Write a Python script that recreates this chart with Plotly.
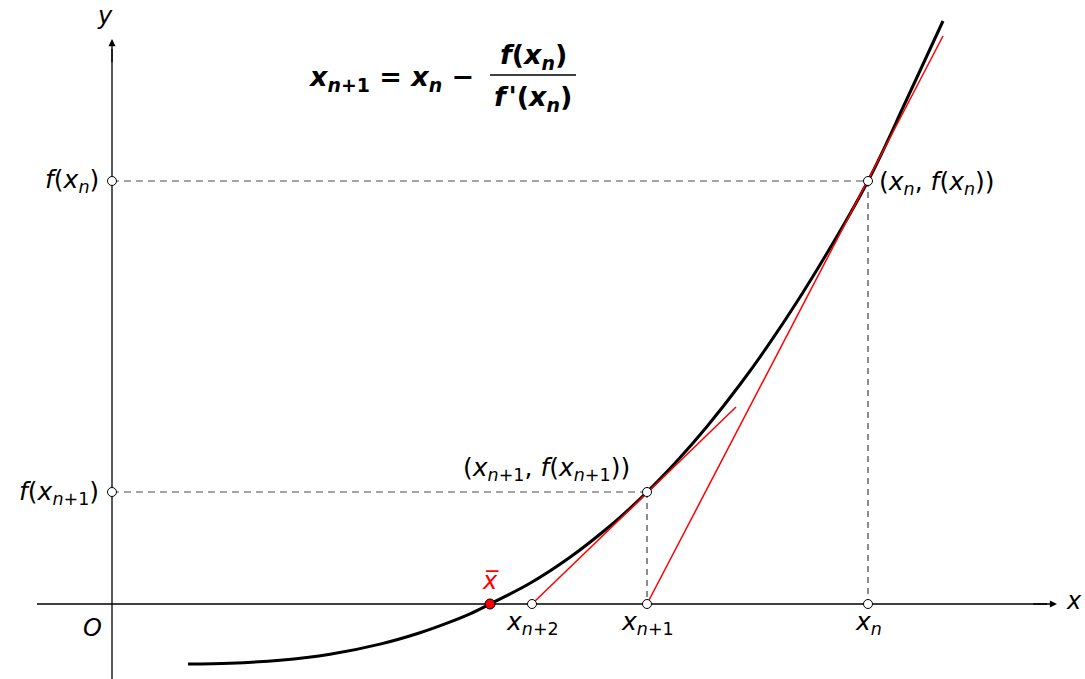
import plotly.graph_objects as go

# ---- data (axis units) ----
curve_x = [0.76, 1.18, 1.68, 2.18, 2.68, 3.08, 3.35, 3.58, 3.78, 4.18, 4.58, 4.98, 5.18, 5.35,
           5.65, 5.95, 6.28, 6.61, 7.01, 7.56, 7.94, 8.31]
curve_y = [-0.60, -0.592, -0.563, -0.503, -0.401, -0.287, -0.191, -0.098, 0.0, 0.207, 0.467,
           0.78, 0.957, 1.12, 1.43, 1.775, 2.195, 2.658, 3.277, 4.23, 5.03, 5.83]

x_bar = 3.78
x_n2 = 4.20
x_n1 = 5.35
x_n = 7.56
f_xn1 = 1.12
f_xn = 4.23

tan1_x = [x_n1, 8.31]   # tangent at x_n
tan1_y = [0.0, 5.68]
tan2_x = [x_n2, 6.24]   # tangent at x_{n+1}
tan2_y = [0.0, 1.97]

FONT = "DejaVu Sans"

fig = go.Figure()

fig.add_trace(go.Scatter(x=[0, x_n], y=[f_xn, f_xn], mode="lines",
                         line=dict(color="#4d4d4d", width=1.1, dash="7px,5px"), hoverinfo="skip"))
fig.add_trace(go.Scatter(x=[0, x_n1], y=[f_xn1, f_xn1], mode="lines",
                         line=dict(color="#4d4d4d", width=1.1, dash="7px,5px"), hoverinfo="skip"))
fig.add_trace(go.Scatter(x=[x_n, x_n], y=[f_xn, 0], mode="lines",
                         line=dict(color="black", width=0.9, dash="6px,5px"), hoverinfo="skip"))
fig.add_trace(go.Scatter(x=[x_n1, x_n1], y=[f_xn1, 0], mode="lines",
                         line=dict(color="black", width=0.9, dash="6px,5px"), hoverinfo="skip"))

fig.add_trace(go.Scatter(x=[-0.75, 9.35], y=[0, 0], mode="lines",
                         line=dict(color="black", width=1.3), hoverinfo="skip"))
fig.add_trace(go.Scatter(x=[0, 0], y=[-0.76, 5.55], mode="lines",
                         line=dict(color="black", width=1.3), hoverinfo="skip"))

fig.add_trace(go.Scatter(x=curve_x, y=curve_y, mode="lines", line_shape="spline",
                         line=dict(color="black", width=3), hoverinfo="skip"))

fig.add_trace(go.Scatter(x=tan1_x, y=tan1_y, mode="lines",
                         line=dict(color="red", width=1.5), hoverinfo="skip"))
fig.add_trace(go.Scatter(x=tan2_x, y=tan2_y, mode="lines",
                         line=dict(color="red", width=1.5), hoverinfo="skip"))

pts_x = [0, 0, x_n, x_n1, x_n, x_n1, x_n2]
pts_y = [f_xn, f_xn1, f_xn, f_xn1, 0, 0, 0]
fig.add_trace(go.Scatter(x=pts_x, y=pts_y, mode="markers",
                         marker=dict(size=9, color="white", line=dict(color="black", width=1)),
                         hoverinfo="skip"))
fig.add_trace(go.Scatter(x=[x_bar], y=[0], mode="markers",
                         marker=dict(size=10, color="red", line=dict(color="black", width=1)),
                         hoverinfo="skip"))

def px(x):
    return (x - 112) / 100.0

def py(y):
    return (604 - y) / 100.0

ann = []

def txt(x, y, text, xanchor="center", yanchor="middle", size=25, color="black"):
    ann.append(dict(x=px(x), y=py(y), xref="x", yref="y", text=text, showarrow=False,
                    xanchor=xanchor, yanchor=yanchor,
                    font=dict(family=FONT, size=size, color=color)))

ann.append(dict(x=9.45, y=0, ax=9.2, ay=0, xref="x", yref="y", axref="x", ayref="y",
                text="", showarrow=True, arrowhead=2, arrowsize=1.1, arrowwidth=1.3, arrowcolor="black"))
ann.append(dict(x=0, y=5.65, ax=0, ay=5.4, xref="x", yref="y", axref="x", ayref="y",
                text="", showarrow=True, arrowhead=2, arrowsize=1.1, arrowwidth=1.3, arrowcolor="black"))

txt(1074, 601, "<i>x</i>", size=24)
txt(105, 16, "<i>y</i>", size=24)
txt(92, 628, "<i>O</i>", size=24)
txt(101, 181, "<i>f</i>(<i>x</i><sub><i>n</i></sub>)", xanchor="right")
txt(101, 493, "<i>f</i>(<i>x</i><sub><i>n</i>+1</sub>)", xanchor="right")
txt(877, 183, "(<i>x</i><sub><i>n</i></sub>, <i>f</i>(<i>x</i><sub><i>n</i></sub>))", xanchor="left")
txt(546, 469, "(<i>x</i><sub><i>n</i>+1</sub>, <i>f</i>(<i>x</i><sub><i>n</i>+1</sub>))")
txt(490, 581, "<i>x\u0305</i>", color="red", size=24)
txt(532, 623, "<i>x</i><sub><i>n</i>+2</sub>")
txt(647, 623, "<i>x</i><sub><i>n</i>+1</sub>")
txt(868, 623, "<i>x</i><sub><i>n</i></sub>")

txt(476, 78, "<b><i>x</i><sub><i>n</i>+1</sub> = <i>x</i><sub><i>n</i></sub> \u2212</b>", xanchor="right", size=27)
txt(533, 56, "<b><i>f</i>(<i>x</i><sub><i>n</i></sub>)</b>", size=27)
txt(533, 98, "<b><i>f</i>\u200a<i>'</i>(<i>x</i><sub><i>n</i></sub>)</b>", size=27)

fig.add_shape(type="line", x0=px(490), x1=px(576), y0=py(75), y1=py(75),
              xref="x", yref="y", line=dict(color="black", width=1.3))

fig.update_layout(
    width=1085, height=679,
    margin=dict(l=0, r=0, t=0, b=0),
    font=dict(family=FONT),
    paper_bgcolor="white", plot_bgcolor="white",
    showlegend=False,
    annotations=ann,
    xaxis=dict(visible=False, range=[px(0), px(1085)], fixedrange=True),
    yaxis=dict(visible=False, range=[py(679), py(0)], fixedrange=True),
)

fig.write_html("out.html", config={"displayModeBar": False},
               post_script="document.body.style.margin='0';")
